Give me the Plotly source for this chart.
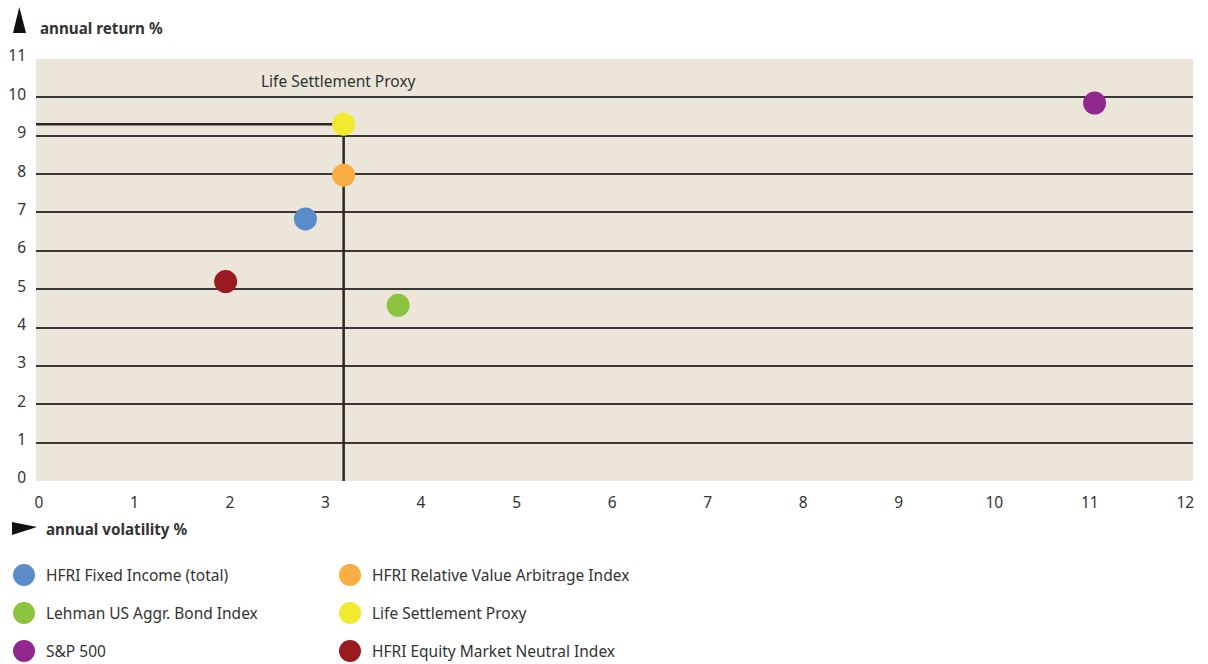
import plotly.graph_objects as go

# ---------------- data ----------------
series_names = [
    "HFRI Fixed Income (total)",
    "HFRI Relative Value Arbitrage Index",
    "Lehman US Aggr. Bond Index",
    "Life Settlement Proxy",
    "S&P 500",
    "HFRI Equity Market Neutral Index",
]
annual_volatility = [2.79, 3.19, 3.76, 3.19, 11.05, 1.955]
annual_return = [6.83, 7.97, 4.58, 9.30, 9.85, 5.20]
series_colors = ["#5A8CC9", "#F9AD42", "#8CC43F", "#F2EA2E", "#91288E", "#9A1B1F"]
x_tick_values = list(range(0, 13))
y_tick_values = list(range(0, 12))
highlight_name = "Life Settlement Proxy"

# ---------------- layout helpers ----------------
W, H = 1208, 664
FONT = "Noto Sans"
TXT = "#333333"
FS = 15.5


def fx(p):
    return p / W


def fy(p):
    return 1 - p / H


plot_left, plot_right, plot_top, plot_bottom = 36, 1193, 59, 481
x_range = [-0.03, 12.08]
y_range = [0, 11]

fig = go.Figure()

# guide lines to the highlighted series
hi = series_names.index(highlight_name)
fig.add_trace(go.Scatter(
    x=[x_range[0], annual_volatility[hi], annual_volatility[hi]],
    y=[annual_return[hi], annual_return[hi], y_range[0]],
    mode="lines", line=dict(color="#2a2826", width=2.5),
    showlegend=False, hoverinfo="skip",
))

# data points
for name, xv, yv, c in zip(series_names, annual_volatility, annual_return, series_colors):
    fig.add_trace(go.Scatter(
        x=[xv], y=[yv], mode="markers", name=name,
        marker=dict(size=23, color=c, line=dict(width=0)),
        showlegend=False,
    ))

# custom legend (two columns)
leg_x_marker = [24, 350]
leg_x_text = [44, 370]
leg_y = [575, 613, 651]
for i, (name, c) in enumerate(zip(series_names, series_colors)):
    col, row = i % 2, i // 2
    fig.add_trace(go.Scatter(
        x=[leg_x_marker[col]], y=[leg_y[row]], mode="markers",
        marker=dict(size=22, color=c, line=dict(width=0)),
        xaxis="x2", yaxis="y2", showlegend=False, hoverinfo="skip",
        cliponaxis=False,
    ))
    fig.add_annotation(
        x=leg_x_text[col], y=leg_y[row], xref="x2", yref="y2",
        text=name, showarrow=False, xanchor="left", yanchor="middle",
        font=dict(family=FONT, size=FS, color=TXT),
    )

fig.update_layout(
    width=W, height=H,
    margin=dict(l=0, r=0, t=0, b=0, autoexpand=False),
    paper_bgcolor="white",
    plot_bgcolor="white",
    font=dict(family=FONT, size=FS, color=TXT),
    xaxis=dict(
        domain=[fx(plot_left), fx(plot_right)],
        range=x_range, tickvals=x_tick_values, showgrid=False,
        zeroline=False, showline=False, ticks="",
        ticklabelstandoff=10, automargin=False,
        tickfont=dict(family=FONT, size=FS, color=TXT),
    ),
    yaxis=dict(
        domain=[1 - plot_bottom / H, 1 - plot_top / H],
        range=y_range, tickvals=y_tick_values, showgrid=True,
        gridcolor="#3a3834", gridwidth=1.5,
        zeroline=False, showline=False, ticks="",
        ticklabelstandoff=9, ticklabelshift=-3, automargin=False,
        tickfont=dict(family=FONT, size=FS, color=TXT),
    ),
    xaxis2=dict(domain=[0, 1], range=[0, W], visible=False, anchor="y2",
                automargin=False),
    yaxis2=dict(domain=[0, 0.2], range=[H, H - 0.2 * H], visible=False,
                anchor="x2", automargin=False),
    hovermode=False,
)

# beige plotting background (main panel only)
fig.add_shape(type="rect", xref="x domain", yref="y domain",
              x0=0, x1=1, y0=0, y1=1, fillcolor="#ECE6DA",
              line=dict(width=0), layer="below")

# axis titles with arrow glyphs
fig.add_annotation(x=fx(38), y=fy(28), xref="paper", yref="paper",
                   text="<b>annual return %</b>", showarrow=False,
                   xanchor="left", yanchor="middle",
                   font=dict(family=FONT, size=15.2, color=TXT))
fig.add_annotation(x=fx(44), y=fy(529), xref="paper", yref="paper",
                   text="<b>annual volatility %</b>", showarrow=False,
                   xanchor="left", yanchor="middle",
                   font=dict(family=FONT, size=15.2, color=TXT))
fig.add_shape(type="path", xref="paper", yref="paper",
              path=f"M {fx(13)},{fy(33)} L {fx(19.3)},{fy(7)} L {fx(26)},{fy(33)} Z",
              fillcolor="#111111", line=dict(width=0))
fig.add_shape(type="path", xref="paper", yref="paper",
              path=f"M {fx(12)},{fy(522)} L {fx(37)},{fy(527)} L {fx(12)},{fy(535)} Z",
              fillcolor="#111111", line=dict(width=0))

# highlighted series label
fig.add_annotation(x=fx(338), y=fy(81.5), xref="paper", yref="paper",
                   text=highlight_name, showarrow=False,
                   xanchor="center", yanchor="middle",
                   font=dict(family=FONT, size=FS, color=TXT))

fig.write_html("out.html")
